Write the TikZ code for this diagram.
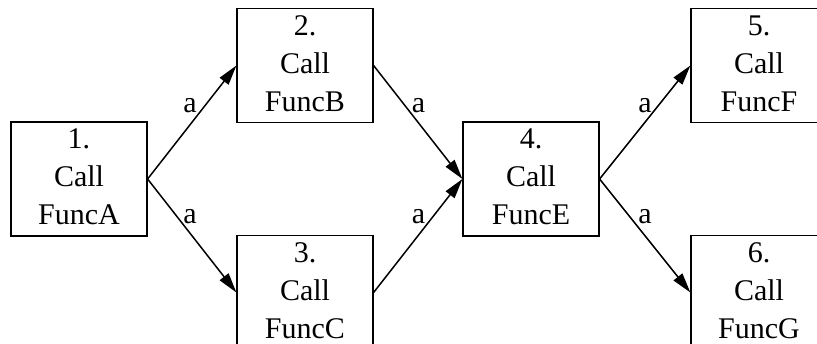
\documentclass[tikz,border=0pt]{standalone}
\usepackage{fontspec}
\setmainfont{Liberation Serif}
\usetikzlibrary{arrows.meta}
\begin{document}
\begin{tikzpicture}[x=1pt,y=-1pt,
  box/.style={draw, line width=1.2pt, rectangle, minimum width=136pt, minimum height=109pt,
    inner sep=0pt, align=center, font=\fontsize{30}{38}\selectfont},
  lab/.style={anchor=base, inner sep=0pt, font=\fontsize{30}{38}\selectfont},
  conn/.style={line width=1.5pt, -{Triangle[length=20pt,width=11pt]}}]
\clip (0,0) rectangle (817,343);
\fill[white] (0,0) rectangle (817,343);
\node[box] (n1) at (79,179) {\strut 1.\\\strut Call\\\strut FuncA};
\node[box] (n2) at (305,65.5) {\strut 2.\\\strut Call\\\strut FuncB};
\node[box] (n3) at (305,292.5) {\strut 3.\\\strut Call\\\strut FuncC};
\node[box] (n4) at (531,179) {\strut 4.\\\strut Call\\\strut FuncE};
\node[box] (n5) at (759,65.5) {\strut 5.\\\strut Call\\\strut FuncF};
\node[box] (n6) at (759,292.5) {\strut 6.\\\strut Call\\\strut FuncG};
\draw[conn] (n1.east) -- (n2.west);
\draw[conn] (n1.east) -- (n3.west);
\draw[conn] (n2.east) -- (n4.west);
\draw[conn] (n3.east) -- (n4.west);
\draw[conn] (n4.east) -- (n5.west);
\draw[conn] (n4.east) -- (n6.west);
\node[lab] (la12) at (190,112) {a};
\node[lab] (la13) at (190,223) {a};
\node[lab] (la24) at (418.5,112) {a};
\node[lab] (la34) at (418.5,223) {a};
\node[lab] (la45) at (645,112) {a};
\node[lab] (la46) at (645,223) {a};
\end{tikzpicture}
\end{document}
